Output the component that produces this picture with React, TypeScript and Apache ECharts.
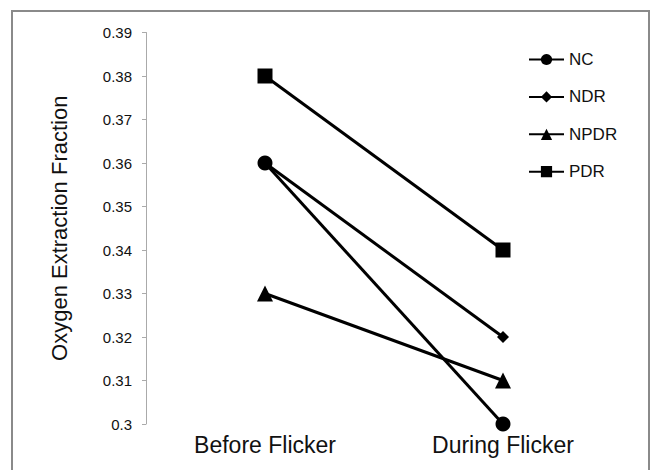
import React, { useEffect, useRef } from "react";
import * as echarts from "echarts";

const categories = ["Before Flicker", "During Flicker"];
const seriesNames = ["NC", "NDR", "NPDR", "PDR"];
const ncValues = [0.36, 0.3];
const ndrValues = [0.36, 0.32];
const npdrValues = [0.33, 0.31];
const pdrValues = [0.38, 0.34];
const symbols = ["circle", "diamond", "triangle", "rect"];
const symbolSizes = [15, 12, 16, 15];

const FONT = "'Liberation Sans', Arial, sans-serif";

export default function App() {
  const ref = useRef<HTMLDivElement>(null);
  useEffect(() => {
    if (!ref.current) return;
    const chart = echarts.init(ref.current, undefined, { renderer: "svg" });
    const values = [ncValues, ndrValues, npdrValues, pdrValues];
    chart.setOption({
      animation: false,
      backgroundColor: "#fff",
      textStyle: { fontFamily: FONT },
      grid: { left: 146, right: 29, top: 32.5, bottom: 46 },
      graphic: [
        {
          type: "rect",
          shape: { x: 12, y: 11, width: 637, height: 480 },
          style: { fill: "none", stroke: "#8a8a8a", lineWidth: 2 },
          silent: true,
        },
      ],
      legend: {
        orient: "vertical",
        left: 523,
        top: 46,
        itemWidth: 35,
        itemHeight: 14,
        itemGap: 20.4,
        data: seriesNames,
        textStyle: { fontSize: 17, color: "#111", fontFamily: FONT },
      },
      xAxis: {
        type: "category",
        data: categories,
        boundaryGap: true,
        axisLine: { show: false },
        axisTick: { show: false },
        axisLabel: { fontSize: 23, color: "#111", margin: 9, fontFamily: FONT },
      },
      yAxis: {
        type: "value",
        min: 0.3,
        max: 0.39,
        interval: 0.01,
        name: "Oxygen Extraction Fraction",
        nameLocation: "middle",
        nameRotate: 90,
        nameGap: 76,
        nameTextStyle: { fontSize: 22, color: "#111", fontFamily: FONT },
        axisLine: { show: true, lineStyle: { color: "#aaa", width: 1 } },
        axisTick: { show: true, length: 4, lineStyle: { color: "#aaa" } },
        splitLine: { show: false },
        axisLabel: { fontSize: 15, color: "#111", margin: 14, fontFamily: FONT },
      },
      series: seriesNames.map((name, i) => ({
        name,
        type: "line",
        data: values[i],
        symbol: symbols[i],
        symbolSize: symbolSizes[i],
        showAllSymbol: true,
        lineStyle: { color: "#000", width: 3 },
        itemStyle: { color: "#000" },
        z: 2 + i,
      })),
    });
    return () => chart.dispose();
  }, []);
  return (
    <div
      ref={ref}
      style={{ position: "absolute", left: 0, top: 0, width: 651, height: 470 }}
    />
  );
}
